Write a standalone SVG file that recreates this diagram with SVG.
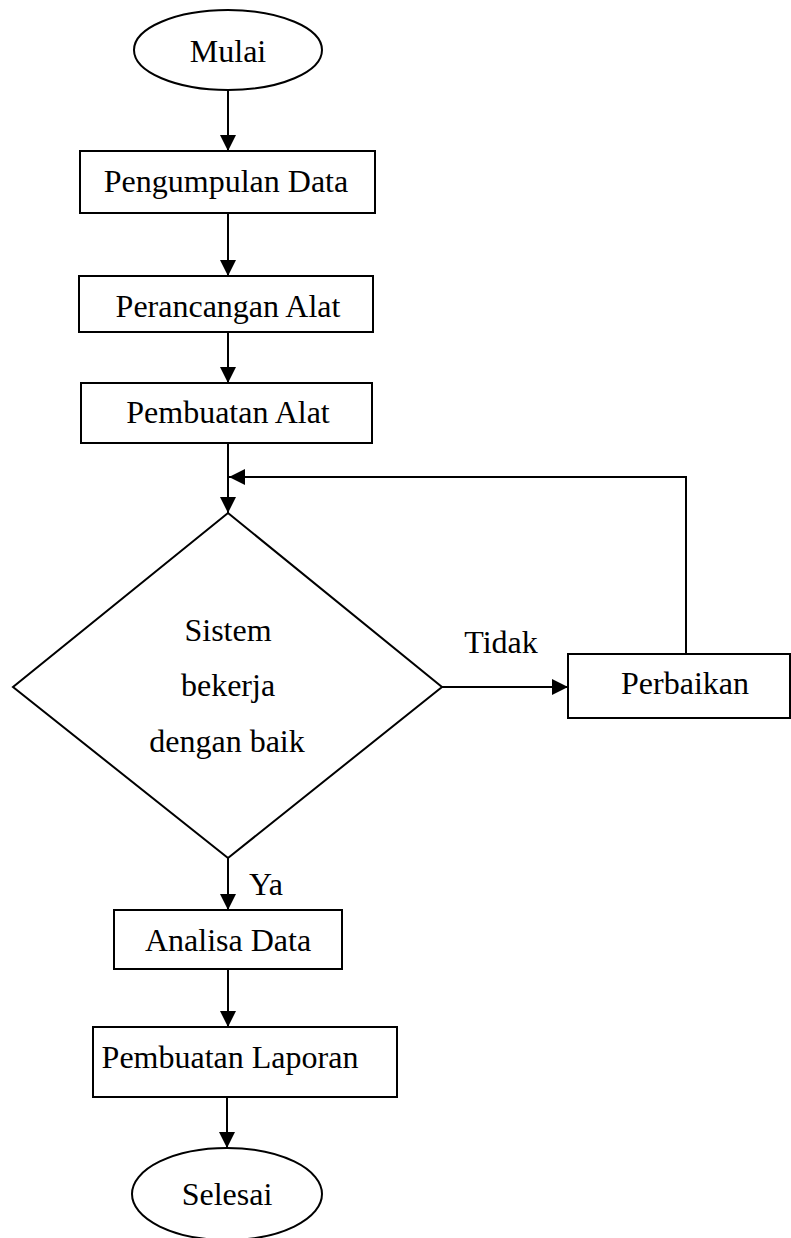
<svg xmlns="http://www.w3.org/2000/svg" width="791" height="1238" viewBox="0 0 791 1238">
<style>
.shape{fill:#fff;stroke:#000;stroke-width:2}
.t{font-family:"Liberation Serif","Times New Roman",serif;font-size:32px;fill:#000;text-anchor:middle}
.c{fill:none;stroke:#000;stroke-width:2}
</style>
<defs>
<marker id="ah" markerUnits="userSpaceOnUse" markerWidth="16" markerHeight="16" refX="16" refY="8" orient="auto">
<path d="M0,0 L16,8 L0,16 Z" fill="#000"/>
</marker>
</defs>
<rect width="791" height="1238" fill="#fff"/>
<g id="connectors">
<path class="c" d="M228,90 V151" marker-end="url(#ah)"/>
<path class="c" d="M228,213 V276" marker-end="url(#ah)"/>
<path class="c" d="M228,332 V383" marker-end="url(#ah)"/>
<path class="c" d="M228,443 V513" marker-end="url(#ah)"/>
<path class="c" d="M686,654 V477 H229" marker-end="url(#ah)"/>
<path class="c" d="M442,687 H568" marker-end="url(#ah)"/>
<path class="c" d="M228,858 V910" marker-end="url(#ah)"/>
<path class="c" d="M228,969 V1027" marker-end="url(#ah)"/>
<path class="c" d="M227,1097 V1148" marker-end="url(#ah)"/>
<text class="t" x="501" y="653">Tidak</text>
<text class="t" x="266" y="895">Ya</text>
</g>
<g id="mulai">
<ellipse class="shape" cx="228" cy="50" rx="94" ry="40"/>
<text class="t" x="228" y="62">Mulai</text>
</g>
<g id="pengumpulan">
<rect class="shape" x="80" y="151" width="295" height="62"/>
<text class="t" x="226" y="192">Pengumpulan Data</text>
</g>
<g id="perancangan">
<rect class="shape" x="79" y="276" width="294" height="56"/>
<text class="t" x="228" y="317">Perancangan Alat</text>
</g>
<g id="pembuatan-alat">
<rect class="shape" x="81" y="383" width="291" height="60"/>
<text class="t" x="228" y="423">Pembuatan Alat</text>
</g>
<g id="keputusan">
<polygon class="shape" points="228,513 442,687 228,858 13,687"/>
<text class="t" x="228" y="641">Sistem</text>
<text class="t" x="228" y="696">bekerja</text>
<text class="t" x="227" y="752">dengan baik</text>
</g>
<g id="perbaikan">
<rect class="shape" x="568" y="654" width="222" height="64"/>
<text class="t" x="685" y="694">Perbaikan</text>
</g>
<g id="analisa">
<rect class="shape" x="114" y="910" width="228" height="59"/>
<text class="t" x="228" y="951">Analisa Data</text>
</g>
<g id="laporan">
<rect class="shape" x="93" y="1027" width="304" height="70"/>
<text class="t" x="230" y="1068">Pembuatan Laporan</text>
</g>
<g id="selesai">
<ellipse class="shape" cx="227" cy="1194" rx="95" ry="46"/>
<text class="t" x="227" y="1205">Selesai</text>
</g>
</svg>
